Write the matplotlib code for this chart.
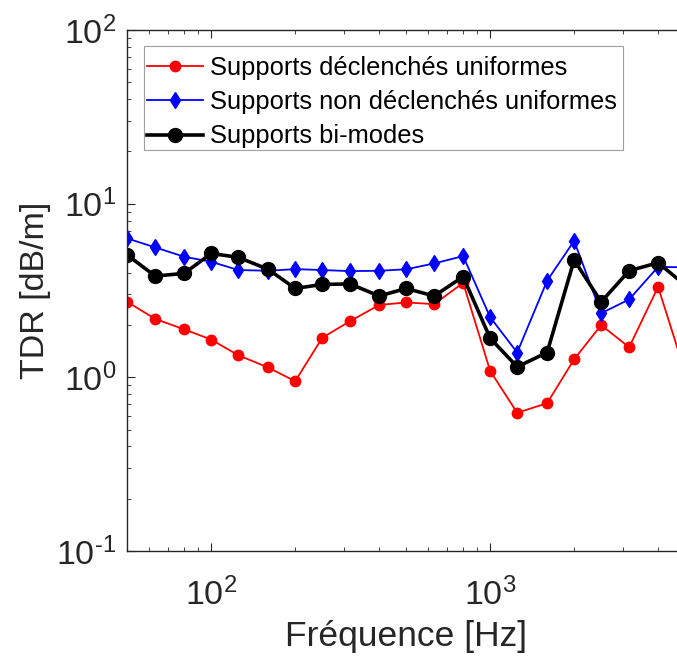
import matplotlib
matplotlib.use('Agg')
import matplotlib.pyplot as plt
from matplotlib.ticker import LogLocator, FuncFormatter
from matplotlib.patches import Rectangle
import numpy as np

plt.rcParams['font.family'] = ['Liberation Sans', 'DejaVu Sans']
plt.rcParams['mathtext.fontset'] = 'custom'
plt.rcParams['mathtext.rm'] = 'Liberation Sans'
plt.rcParams['axes.unicode_minus'] = False

# third-octave band centre frequencies (Hz)
freqs = [50, 63, 80, 100, 125, 160, 200, 250, 315, 400, 500, 630, 800,
         1000, 1250, 1600, 2000, 2500, 3150, 4000, 5000]

# TDR values (dB/m)
tdr_declenches = [2.72, 2.17, 1.89, 1.65, 1.34, 1.14, 0.95, 1.69, 2.11, 2.61, 2.70,
                  2.64, 3.50, 1.09, 0.625, 0.71, 1.27, 2.00, 1.49, 3.32, 1.07]
tdr_non_declenches = [6.31, 5.60, 4.95, 4.63, 4.15, 4.11, 4.20, 4.15, 4.09, 4.11, 4.19,
                      4.53, 4.99, 2.22, 1.39, 3.60, 6.11, 2.34, 2.81, 4.33, 4.30]
tdr_bimodes = [5.06, 3.83, 3.97, 5.17, 4.91, 4.19, 3.25, 3.43, 3.45, 2.94, 3.25,
               2.94, 3.80, 1.68, 1.15, 1.39, 4.74, 2.72, 4.11, 4.57, 3.40]

labels = ["Supports déclenchés uniformes",
          "Supports non déclenchés uniformes",
          "Supports bi-modes"]


def pow10(v, pos):
    # MATLAB style 10^n with a plain hyphen for negative exponents
    e = int(round(np.log10(v)))
    if e < 0:
        return r'$\mathdefault{10^{\text{-}%d}}$' % (-e)
    return r'$\mathdefault{10^{%d}}$' % e


W, H = 677, 657
fig = plt.figure(figsize=(W / 100, H / 100), dpi=100)
# axes runs past the right edge of the picture (cropped like the original)
ax = fig.add_axes([0.188, 0.1613, 0.824, 0.793])

ax.plot(freqs, tdr_declenches, '-o', color='red', lw=1.3, ms=7.5, label=labels[0])
ax.plot(freqs, tdr_non_declenches, '-d', color='blue', lw=1.3, ms=8.5, label=labels[1])
ax.plot(freqs, tdr_bimodes, '-o', color='black', lw=2.6, ms=10, label=labels[2])

ax.set_xscale('log')
ax.set_yscale('log')
ax.set_xlim(50, 5000)
ax.set_ylim(0.1, 100)

ax.xaxis.set_major_locator(LogLocator(base=10))
ax.yaxis.set_major_locator(LogLocator(base=10))
ax.xaxis.set_major_formatter(FuncFormatter(pow10))
ax.yaxis.set_major_formatter(FuncFormatter(pow10))

axcol = '#262626'
for sp in ax.spines.values():
    sp.set_color(axcol)
    sp.set_linewidth(1.0)
ax.tick_params(which='both', direction='in', top=True, right=True, colors=axcol,
               labelsize=24.5)
ax.tick_params(which='major', length=6, width=0.8)
ax.tick_params(which='minor', length=3, width=0.6)
ax.tick_params(axis='x', which='major', pad=19)
ax.tick_params(axis='y', which='major', pad=8)

ax.set_xlabel("Fréquence [Hz]", fontsize=25.5, color=axcol, labelpad=6)
ax.set_ylabel("TDR [dB/m]", fontsize=24.5, color=axcol, labelpad=4)

# legend without its own frame; box drawn separately (MATLAB-like tight padding)
leg = ax.legend(loc='upper left', bbox_to_anchor=(147 / W, 1 - 56 / H),
                bbox_transform=fig.transFigure, fontsize=18.4, frameon=False,
                borderpad=0, handlelength=2.2, handletextpad=0.27,
                labelspacing=0.4, borderaxespad=0)
leg.set_zorder(6)
ax.add_patch(Rectangle((144 / W, 1 - 150 / H), (623 - 144) / W, (150 - 46) / H,
                       transform=fig.transFigure, facecolor='white',
                       edgecolor='#a0a0a0', lw=0.8, zorder=5, clip_on=False))

fig.savefig('out.png', dpi=100)
